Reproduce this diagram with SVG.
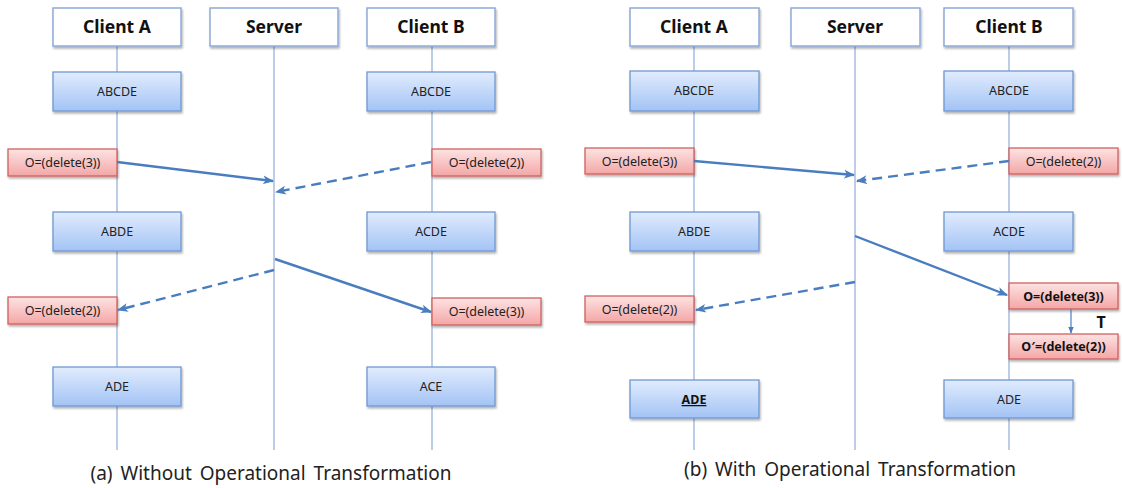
<svg xmlns="http://www.w3.org/2000/svg" width="1122" height="488" viewBox="0 0 1122 488">
<style>
.hdr{fill:#fff;stroke:#8eaad8;stroke-width:1.5}
.hdrt{font-family:"Noto Sans","Open Sans",sans-serif;font-weight:bold;font-size:17.5px;fill:#111;text-anchor:middle}
.blue{fill:url(#gBlue);stroke:#6f98d2;stroke-width:1.3}
.red{fill:url(#gRed);stroke:#d2605c;stroke-width:1.3}
.bt{font-family:"Noto Sans","Open Sans",sans-serif;font-size:12.5px;fill:#222;text-anchor:middle}
.bb{font-weight:bold;fill:#111}
.life{stroke:#7a9bd0;stroke-width:1;fill:none}
.arr{stroke:#4a7dbf;stroke-width:2.4;fill:none;marker-end:url(#ah)}
.dash{stroke-dasharray:10,6}
.cap{font-family:"Noto Sans","Open Sans",sans-serif;font-size:19px;fill:#222;text-anchor:middle;word-spacing:3px}
</style>
<defs>
<linearGradient id="gBlue" x1="0" y1="0" x2="0" y2="1"><stop offset="0" stop-color="#e1ecfd"/><stop offset="1" stop-color="#a3c3f5"/></linearGradient>
<linearGradient id="gRed" x1="0" y1="0" x2="0" y2="1"><stop offset="0" stop-color="#fde3e3"/><stop offset="1" stop-color="#f4a6a6"/></linearGradient>
<filter id="sh" x="-10%" y="-20%" width="125%" height="150%"><feDropShadow dx="1" dy="2" stdDeviation="1.2" flood-color="#000" flood-opacity="0.3"/></filter>
<marker id="ah" viewBox="0 0 10 10" refX="9" refY="5" markerWidth="11" markerHeight="11" markerUnits="userSpaceOnUse" orient="auto"><path d="M0,1 L10,5 L0,9 L2.5,5 Z" fill="#4a7dbf"/></marker>
<marker id="ahs" viewBox="0 0 10 10" refX="9" refY="5" markerWidth="7" markerHeight="7" markerUnits="userSpaceOnUse" orient="auto"><path d="M0,1 L10,5 L0,9 Z" fill="#4a7dbf"/></marker>
</defs>
<rect width="1122" height="488" fill="#fff"/>

<g id="lifelines">
<line class="life" x1="117" y1="46" x2="117" y2="450"/>
<line class="life" x1="274" y1="46" x2="274" y2="450"/>
<line class="life" x1="432" y1="46" x2="432" y2="450"/>
<line class="life" x1="694" y1="46" x2="694" y2="450"/>
<line class="life" x1="855" y1="46" x2="855" y2="450"/>
<line class="life" x1="1009" y1="46" x2="1009" y2="450"/>
</g>

<!-- Left panel -->
<g id="a-hdr-clientA"><rect class="hdr" x="53" y="8" width="128" height="38" filter="url(#sh)"/><text class="hdrt" x="117" y="33">Client A</text></g>
<g id="a-hdr-server"><rect class="hdr" x="210" y="8" width="128" height="38" filter="url(#sh)"/><text class="hdrt" x="274" y="33">Server</text></g>
<g id="a-hdr-clientB"><rect class="hdr" x="367" y="8" width="128" height="38" filter="url(#sh)"/><text class="hdrt" x="431" y="33">Client B</text></g>

<g id="a-A-abcde"><rect class="blue" x="53" y="72" width="128" height="39" filter="url(#sh)"/><text class="bt" x="117" y="96">ABCDE</text></g>
<g id="a-B-abcde"><rect class="blue" x="367" y="72" width="128" height="39" filter="url(#sh)"/><text class="bt" x="431" y="96">ABCDE</text></g>
<g id="a-A-op1"><rect class="red" x="8" y="149" width="109" height="27" filter="url(#sh)"/><text class="bt" x="62.5" y="167">O=(delete(3))</text></g>
<g id="a-B-op1"><rect class="red" x="432" y="149" width="109" height="27" filter="url(#sh)"/><text class="bt" x="486.5" y="167">O=(delete(2))</text></g>
<g id="a-A-abde"><rect class="blue" x="53" y="212" width="128" height="39" filter="url(#sh)"/><text class="bt" x="117" y="236">ABDE</text></g>
<g id="a-B-acde"><rect class="blue" x="367" y="212" width="128" height="39" filter="url(#sh)"/><text class="bt" x="431" y="236">ACDE</text></g>
<g id="a-A-op2"><rect class="red" x="8" y="297" width="109" height="27" filter="url(#sh)"/><text class="bt" x="62.5" y="315">O=(delete(2))</text></g>
<g id="a-B-op2"><rect class="red" x="432" y="298" width="109" height="27" filter="url(#sh)"/><text class="bt" x="486.5" y="316">O=(delete(3))</text></g>
<g id="a-A-ade"><rect class="blue" x="53" y="367" width="128" height="39" filter="url(#sh)"/><text class="bt" x="117" y="391">ADE</text></g>
<g id="a-B-ace"><rect class="blue" x="367" y="367" width="128" height="39" filter="url(#sh)"/><text class="bt" x="431" y="391">ACE</text></g>

<!-- Right panel -->
<g id="b-hdr-clientA"><rect class="hdr" x="630" y="8" width="129" height="38" filter="url(#sh)"/><text class="hdrt" x="694" y="33">Client A</text></g>
<g id="b-hdr-server"><rect class="hdr" x="791" y="8" width="129" height="38" filter="url(#sh)"/><text class="hdrt" x="855" y="33">Server</text></g>
<g id="b-hdr-clientB"><rect class="hdr" x="944" y="8" width="129" height="38" filter="url(#sh)"/><text class="hdrt" x="1009" y="33">Client B</text></g>

<g id="b-A-abcde"><rect class="blue" x="630" y="71" width="129" height="40" filter="url(#sh)"/><text class="bt" x="694" y="95">ABCDE</text></g>
<g id="b-B-abcde"><rect class="blue" x="944" y="71" width="129" height="40" filter="url(#sh)"/><text class="bt" x="1009" y="95">ABCDE</text></g>
<g id="b-A-op1"><rect class="red" x="585" y="148" width="109" height="26" filter="url(#sh)"/><text class="bt" x="639.5" y="166">O=(delete(3))</text></g>
<g id="b-B-op1"><rect class="red" x="1009" y="148" width="109" height="26" filter="url(#sh)"/><text class="bt" x="1063.5" y="166">O=(delete(2))</text></g>
<g id="b-A-abde"><rect class="blue" x="630" y="212" width="129" height="39" filter="url(#sh)"/><text class="bt" x="694" y="236">ABDE</text></g>
<g id="b-B-acde"><rect class="blue" x="944" y="212" width="129" height="39" filter="url(#sh)"/><text class="bt" x="1009" y="236">ACDE</text></g>
<g id="b-A-op2"><rect class="red" x="585" y="296" width="109" height="26" filter="url(#sh)"/><text class="bt" x="639.5" y="314">O=(delete(2))</text></g>
<g id="b-B-op2"><rect class="red" x="1009" y="283" width="109" height="26" filter="url(#sh)"/><text class="bt bb" x="1063.5" y="301">O=(delete(3))</text></g>
<g id="b-B-op3"><rect class="red" x="1009" y="334" width="109" height="25" filter="url(#sh)"/><text class="bt bb" x="1063.5" y="351">O′=(delete(2))</text></g>
<g id="b-A-ade"><rect class="blue" x="630" y="380" width="129" height="38" filter="url(#sh)"/><text class="bt bb" x="694" y="404" text-decoration="underline">ADE</text></g>
<g id="b-B-ade"><rect class="blue" x="944" y="380" width="129" height="38" filter="url(#sh)"/><text class="bt" x="1009" y="404">ADE</text></g>

<g id="connectors">
<line class="arr" x1="117" y1="162" x2="273" y2="181"/>
<line class="arr dash" x1="431" y1="162" x2="276" y2="192"/>
<line class="arr" x1="275" y1="259" x2="431" y2="312"/>
<line class="arr dash" x1="274" y1="270" x2="118" y2="310"/>
<line class="arr" x1="694" y1="161" x2="854" y2="175"/>
<line class="arr dash" x1="1009" y1="161" x2="857" y2="181"/>
<line class="arr" x1="855" y1="236" x2="1007" y2="295"/>
<line class="arr dash" x1="855" y1="282" x2="696" y2="310"/>
<line x1="1071" y1="309" x2="1071" y2="333" stroke="#4a7dbf" stroke-width="1.2" marker-end="url(#ahs)"/>
</g>
<text x="1101" y="328" font-family="Noto Sans,sans-serif" font-weight="bold" font-size="16" fill="#111" text-anchor="middle">T</text>

<text class="cap" x="271" y="480">(a) Without Operational Transformation</text>
<text class="cap" x="850" y="476">(b) With Operational Transformation</text>
</svg>
